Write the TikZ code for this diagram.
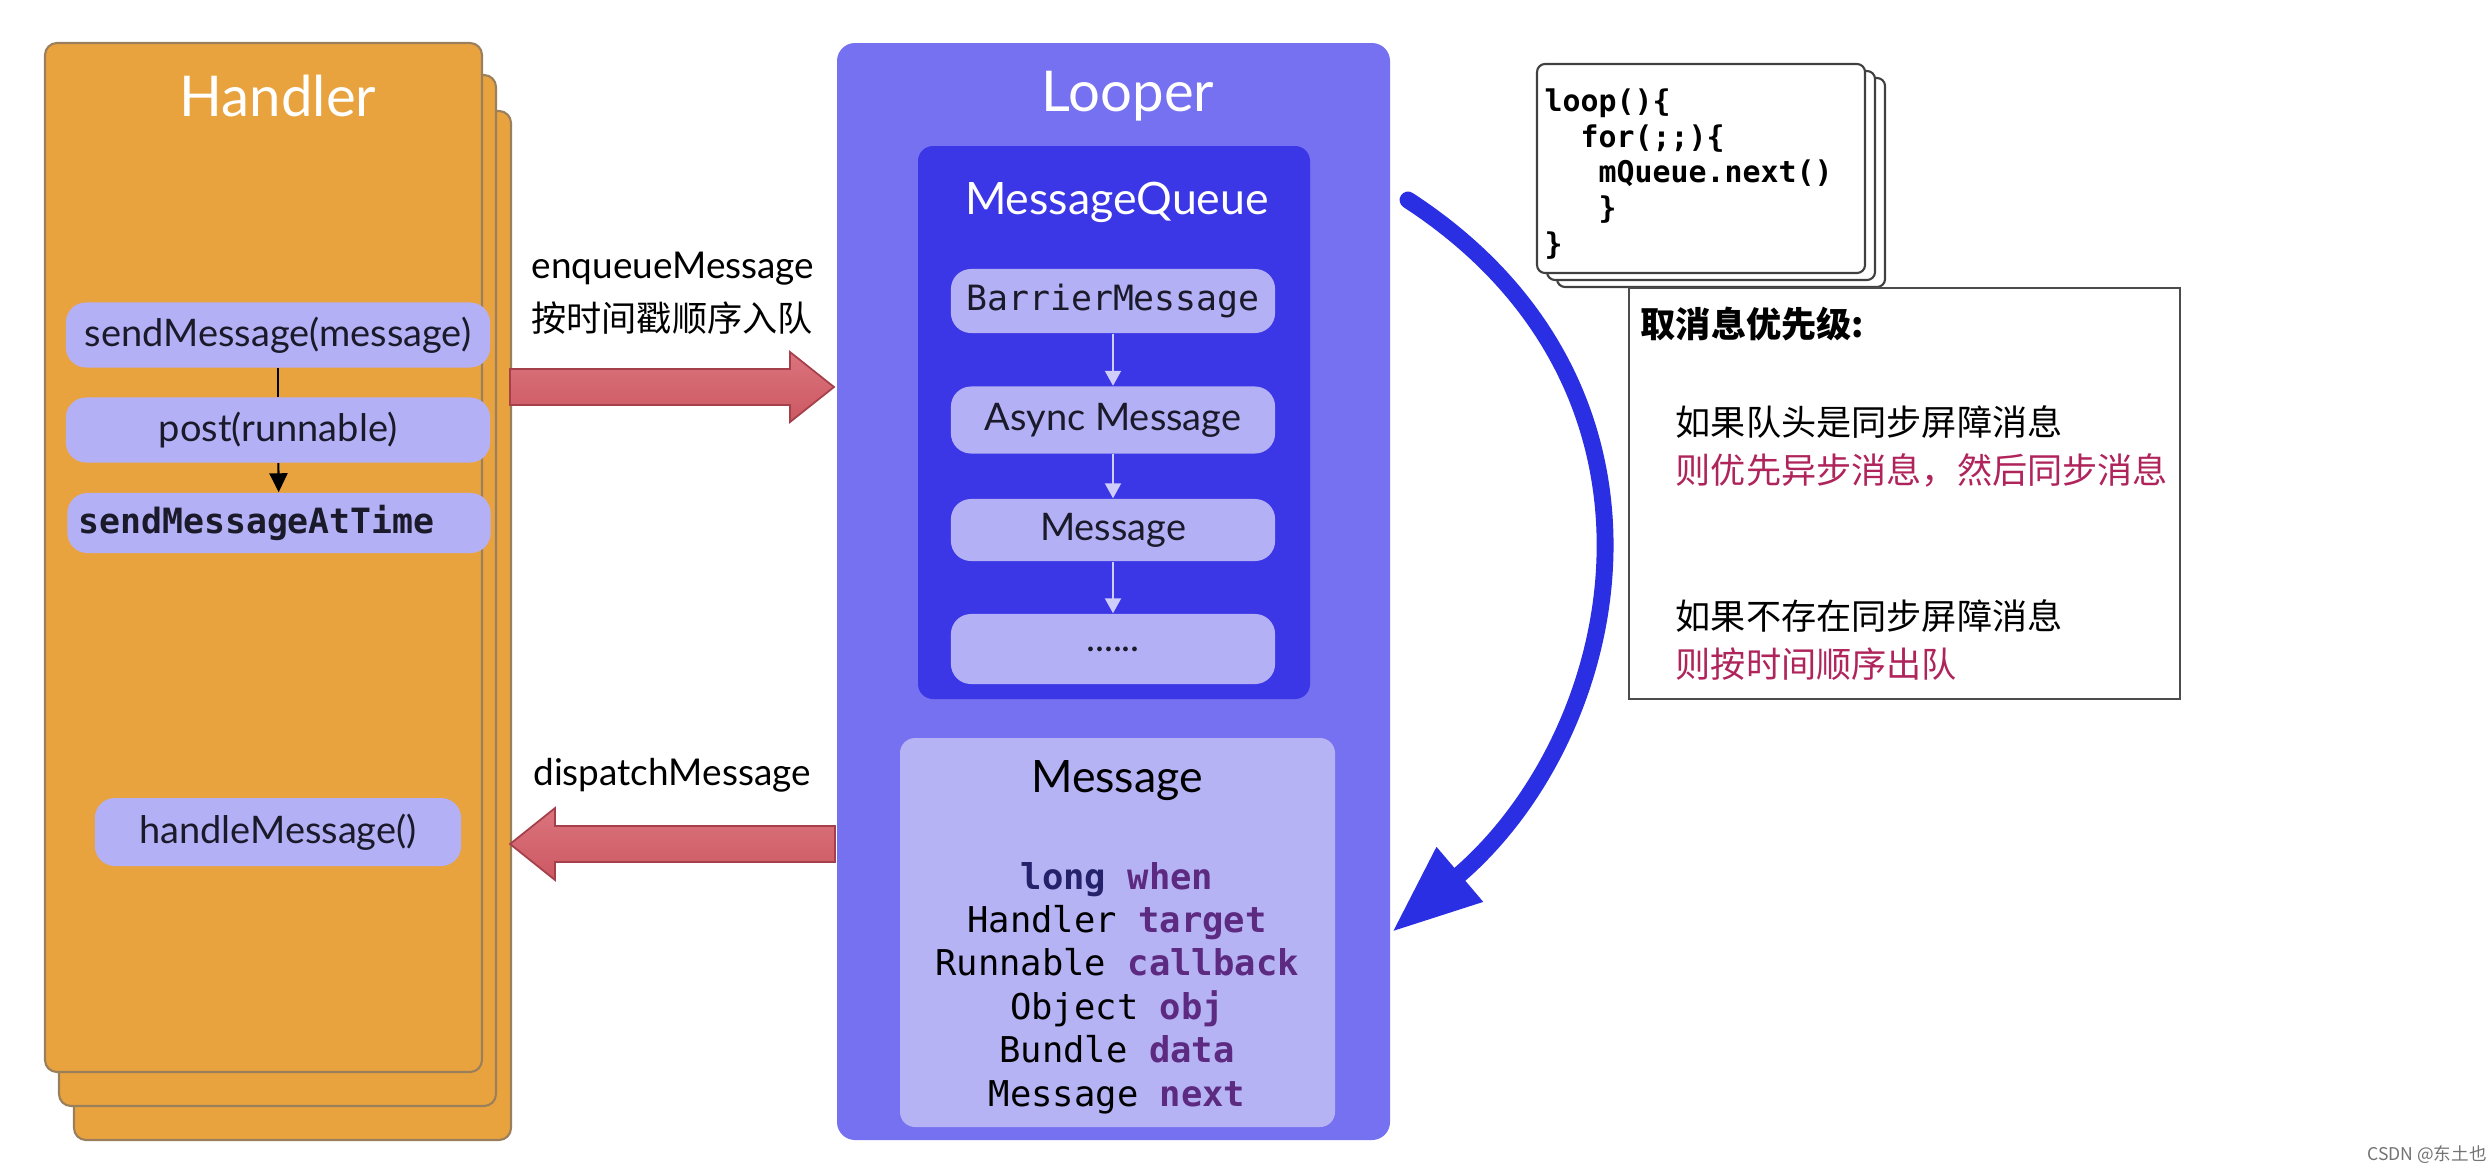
\documentclass[tikz,border=0pt]{standalone}
\usepackage{fontspec}
\setmainfont{Lato}
\setmonofont{DejaVu Sans Mono}
\newfontfamily\cjk{Noto Sans CJK SC}
\usetikzlibrary{arrows.meta}

\definecolor{handlerfill}{HTML}{E9A33E}
\definecolor{cardedge}{HTML}{9A7F5C}
\definecolor{pillfill}{HTML}{B4B0F5}
\definecolor{pilltext}{HTML}{1A1A2A}
\definecolor{looperfill}{HTML}{7571F0}
\definecolor{queuefill}{HTML}{3B36E6}
\definecolor{msgfill}{HTML}{B6B3F5}
\definecolor{qarrowcol}{HTML}{CFCDFA}
\definecolor{redtop}{HTML}{DB747D}
\definecolor{redbottom}{HTML}{CC5862}
\definecolor{rededge}{HTML}{A5404B}
\definecolor{nextblue}{HTML}{2B2FE3}
\definecolor{typenavy}{HTML}{23226A}
\definecolor{fieldpurple}{HTML}{5C2A80}
\definecolor{notered}{HTML}{B0245C}

\tikzset{
  card/.style={draw=cardedge, line width=0.6pt, fill=handlerfill, rounded corners=0.12cm},
  pill/.style={fill=pillfill, rounded corners=0.2cm, inner sep=0pt, text=pilltext,
    font=\fontsize{10.8}{12}\selectfont},
  qpill/.style={pill, minimum width=3.24cm},
  title/.style={text=white, font=\fontsize{16}{18}\selectfont},
  subtitle/.style={font=\fontsize{12.7}{15}\selectfont},
  plain text/.style={font=\fontsize{10.5}{12}\selectfont, inner sep=0pt},
  redarrow/.style={draw=rededge, line width=0.5pt, top color=redtop, bottom color=redbottom},
  qarrow/.style={draw=qarrowcol, line width=0.6pt, -{Triangle[length=0.15cm,width=0.16cm]}},
  nextarrow/.style={draw=nextblue, line width=4.8pt, line cap=round,
    -{Triangle[length=0.89cm,width=0.67cm]}},
  codecard/.style={draw=black!75, line width=0.6pt, fill=white, rounded corners=0.08cm},
  code/.style={font=\ttfamily\bfseries\fontsize{8.5}{10.2}\selectfont, align=left, inner sep=0pt},
  cjktext/.style={font=\cjk\fontsize{10}{12}\selectfont, inner sep=0pt, anchor=west}
}

\begin{document}
\begin{tikzpicture}[x=0.01cm,y=-0.01cm]
\fill[white] (0,0) rectangle (2492,1172);
\useasboundingbox (0,0) rectangle (2492,1172);

% Handler
\draw[card] (74,111) rectangle (511,1140);
\draw[card] (59,75) rectangle (496,1106);
\draw[card] (45,43) rectangle (482,1072);
\node[title] (handlertitle) at (278,96) {Handler};
\node[pill, minimum width=4.24cm, minimum height=0.65cm] (send) at (278,335) {sendMessage(message)};
\node[pill, minimum width=4.24cm, minimum height=0.65cm] (post) at (278,430) {post(runnable)};
\node[pill, text width=4.01cm, inner xsep=0.11cm, minimum height=0.6cm, align=left,
  font=\ttfamily\bfseries\fontsize{9.9}{12}\selectfont] (attime) at (279,523) {sendMessageAtTime};
\node[pill, minimum width=3.66cm, minimum height=0.68cm] (handle) at (278,832) {handleMessage()};
\draw[line width=0.6pt] (send) -- (post);
\draw[line width=0.6pt, -{Triangle[length=0.19cm,width=0.18cm]}] (post) -- (attime);

% enqueue / dispatch
\coordinate (enqtail) at (510,387);
\coordinate (disptip) at (510,844);
\draw[redarrow] (enqtail) ++(0,-18) -- ++(280,0) -- ++(0,-17) -- ++(44,35) -- ++(-44,35)
  -- ++(0,-17) -- ++(-280,0) -- cycle;
\draw[redarrow] (disptip) -- ++(45,-36) -- ++(0,18) -- ++(280,0) -- ++(0,36) -- ++(-280,0)
  -- ++(0,18) -- cycle;
\node[plain text] (enqlabel) at (673,269) {enqueueMessage};
\node[plain text, font=\cjk\fontsize{10}{12}\selectfont] (enqnote) at (672,318) {按时间戳顺序入队};
\node[plain text] (displabel) at (672,775) {dispatchMessage};

% Looper
\fill[looperfill, rounded corners=0.18cm] (837,43) rectangle (1390,1140);
\node[title] (loopertitle) at (1128,96) {Looper};
\fill[queuefill, rounded corners=0.15cm] (918,146) rectangle (1310,699);
\node[subtitle, text=white] (queuetitle) at (1117,202) {MessageQueue};
\node[qpill, minimum height=0.64cm, font=\ttfamily\fontsize{9.9}{12}\selectfont] (barrier) at (1113,301) {BarrierMessage};
\node[qpill, minimum height=0.67cm] (async) at (1113,420) {Async Message};
\node[qpill, minimum height=0.62cm] (plainmsg) at (1113,530) {Message};
\node[qpill, minimum height=0.70cm] (more) at (1113,649) {......};
\draw[qarrow] (barrier) -- (async);
\draw[qarrow] (async) -- (plainmsg);
\draw[qarrow] (plainmsg) -- (more);

\fill[msgfill, rounded corners=0.15cm] (900,738) rectangle (1335,1127);
\node[subtitle] (msgtitle) at (1117,781) {Message};
\node[align=center, inner sep=0pt, font=\ttfamily\fontsize{10.1}{12.35}\selectfont] (fields) at (1117,988)
  {\textbf{\textcolor{typenavy}{long} \textcolor{fieldpurple}{when}}\\
   Handler \textbf{\textcolor{fieldpurple}{target}}\\
   Runnable \textbf{\textcolor{fieldpurple}{callback}}\\
   Object \textbf{\textcolor{fieldpurple}{obj}}\\
   Bundle \textbf{\textcolor{fieldpurple}{data}}\\
   Message \textbf{\textcolor{fieldpurple}{next}}};

% loop arrow
\coordinate (nextfrom) at (1408,200);
\coordinate (nextto) at (1392,932);
\draw[nextarrow] (nextfrom) .. controls (1700,390) and (1625,734) .. (nextto);

% loop() code
\draw[codecard] (1557,78) rectangle (1885,287);
\draw[codecard] (1547,71) rectangle (1875,280);
\draw[codecard] (1537,64) rectangle (1865,273);
\node[code, anchor=west] (loopcode) at (1544,174)
  {loop()\{\\
   \phantom{xx}for(;;)\{\\
   \phantom{xxx}mQueue.next()\\
   \phantom{xxx}\}\\
   \}};

% priority note
\draw[draw=black!70, line width=0.6pt] (1629,288) rectangle (2180,699);
\node[cjktext, font=\cjk\bfseries\fontsize{10}{12}\selectfont] (prio) at (1640,324) {取消息优先级:};
\node[cjktext] (rule1) at (1675,422) {如果队头是同步屏障消息};
\node[cjktext, text=notered] (then1) at (1675,470) {则优先异步消息，然后同步消息};
\node[cjktext] (rule2) at (1675,616) {如果不存在同步屏障消息};
\node[cjktext, text=notered] (then2) at (1675,664) {则按时间顺序出队};

\node[font=\cjk\fontsize{5}{6}\selectfont, text=black!55, inner sep=0pt] (mark) at (2427,1155) {CSDN @东土也};
\end{tikzpicture}
\end{document}
